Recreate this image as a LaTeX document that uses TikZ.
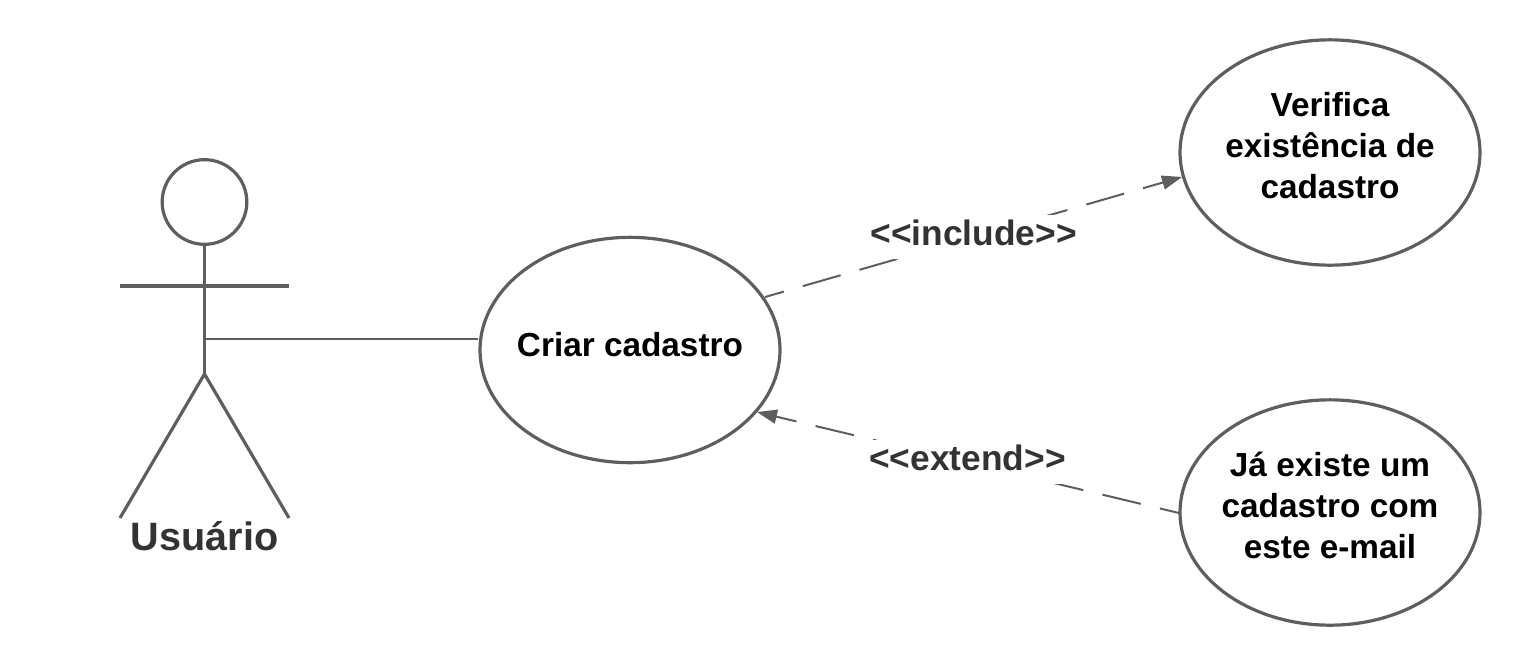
\documentclass[tikz,border=0pt]{standalone}
\usepackage{fontspec}
\setmainfont[Ligatures=NoCommon]{Liberation Sans}
\usetikzlibrary{arrows.meta,shapes.geometric}
\definecolor{ln}{HTML}{5E5E5E}
\definecolor{lbl}{HTML}{333333}
\newcommand{\ltlt}{{<}\kern0pt{<}}
\newcommand{\gtgt}{{>}\kern0pt{>}}
\tikzset{
  x=0.75pt,y=-0.75pt,
  usecase/.style={draw=ln,line width=2.4pt,ellipse,minimum width=225pt,minimum height=169pt,inner sep=0pt},
  casetext/.style={align=center,font=\fontsize{25pt}{30.7pt}\selectfont\bfseries,text=black,inner sep=0pt},
  person/.style={draw=ln,line width=2.4pt},
  conn/.style={draw=ln,line width=1.5pt},
  dep/.style={conn,dash pattern=on 29.5pt off 14.75pt,dash phase=14.75pt,-{Triangle[length=15pt,width=10.5pt]}},
  deplabel/.style={font=\fontsize{26.5pt}{30pt}\selectfont\bfseries,text=lbl,fill=white,inner xsep=1pt,inner ysep=0pt,minimum height=33pt},
}
\begin{document}
\begin{tikzpicture}
\useasboundingbox (0,0) rectangle (1520,665);
\node[draw=ln,line width=2.4pt,circle,minimum size=63.5pt,inner sep=0pt] (head) at (204.5,202) {};
\coordinate (hip) at (204.5,374);
\coordinate (arml) at (120,286);
\coordinate (armr) at (289,286);
\coordinate (legl) at (120,518);
\coordinate (legr) at (289,518);
\coordinate (side) at (204.5,339);
\draw[person] (head.south) -- (hip);
\draw[person] (arml) -- (armr);
\draw[person] (legl) -- (hip) -- (legr);
\node[font=\fontsize{29.7pt}{34pt}\selectfont\bfseries,text=lbl,inner sep=0pt] (actor) at (204.5,536.5) {Usuário};
\node[usecase] (criar) at (630,350) {};
\node[usecase] (verifica) at (1330,152.5) {};
\node[usecase] (existe) at (1330,512.5) {};
\node[casetext] at (630,345) {Criar cadastro};
\node[casetext] at (1330,145.5) {Verifica\\existência de\\cadastro};
\node[casetext] at (1330,505.5) {Já existe um\\cadastro com\\este e-mail};
\coordinate (a1) at (765,297);
\coordinate (b1) at (1182,177);
\coordinate (a2) at (1179,513);
\coordinate (b2) at (757,412);
\draw[conn] (side) -- (criar.west |- side);
\draw[dep] (a1) -- (b1);
\draw[dep] (a2) -- (b2);
\node[deplabel] (inc) at (973.5,237) {\raisebox{6pt}{\ltlt include\gtgt}};
\node[deplabel] (ext) at (967.5,461.5) {\raisebox{6pt}{\ltlt extend\gtgt}};
\end{tikzpicture}
\end{document}
